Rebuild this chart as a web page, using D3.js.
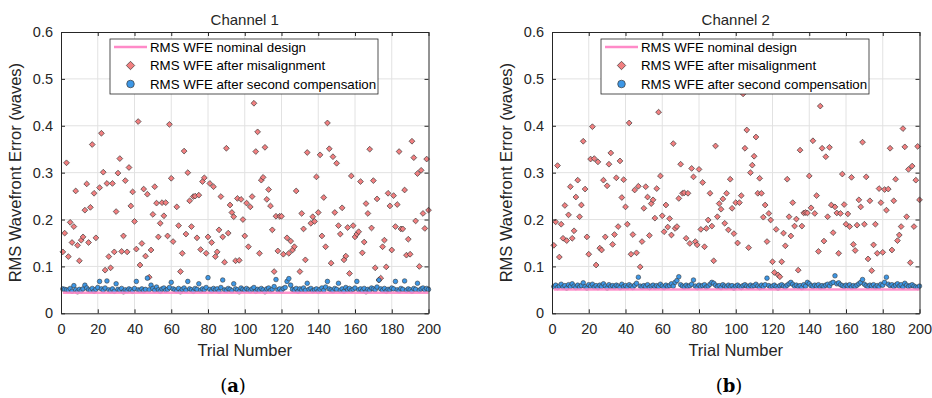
<!DOCTYPE html>
<html>
<head>
<meta charset="utf-8">
<script src="https://cdn.jsdelivr.net/npm/d3@7"></script>
<style>
  html, body { margin: 0; padding: 0; background: #fff; }
  svg { display: block; font-family: "Liberation Sans", Arial, Helvetica, sans-serif; }
</style>
</head>
<body>
<svg id="chart" width="932" height="398"></svg>
<script>
// ---- data ----
const xTicks = [0, 20, 40, 60, 80, 100, 120, 140, 160, 180, 200];
const yTicks = [0, 0.1, 0.2, 0.3, 0.4, 0.5, 0.6];
const legendLabels = ['RMS WFE nominal design', 'RMS WFE after misalignment', 'RMS WFE after second compensation'];

// channel 1
const nominal1 = 0.044;
const misalign1 = [
  0.131, 0.171, 0.321, 0.121, 0.194, 0.151, 0.185, 0.261, 0.145, 0.112,
  0.156, 0.163, 0.220, 0.276, 0.151, 0.226, 0.360, 0.256, 0.161, null,
  0.268, 0.384, 0.301, 0.092, 0.277, 0.121, 0.097, 0.277, 0.131, 0.217,
  0.299, 0.330, 0.132, 0.165, 0.283, 0.131, 0.311, 0.229, 0.259, 0.196,
  0.137, 0.409, 0.103, 0.149, 0.265, 0.122, 0.254, 0.077, 0.135, 0.211,
  0.270, 0.235, 0.163, 0.192, 0.236, 0.208, 0.236, 0.165, 0.403, 0.288,
  0.153, null, 0.227, 0.187, 0.089, 0.128, 0.346, 0.169, 0.300, 0.240,
  0.185, 0.249, 0.250, 0.161, 0.252, 0.136, 0.281, 0.289, 0.128, 0.163,
  0.277, 0.151, 0.270, 0.121, 0.131, 0.178, 0.249, 0.163, 0.109, 0.352,
  0.171, 0.231, 0.215, 0.206, 0.112, 0.245, 0.113, 0.243, 0.200, 0.165,
  0.235, 0.142, 0.227, 0.249, 0.448, 0.345, 0.387, 0.128, 0.284, 0.290,
  0.354, 0.243, 0.264, 0.229, 0.178, 0.089, 0.207, 0.133, 0.207, 0.207,
  0.126, null, 0.161, 0.128, 0.154, 0.135, 0.142, 0.261, null, 0.089,
  0.213, 0.180, 0.114, 0.343, null, 0.192, 0.206, 0.196, 0.291, 0.215,
  0.338, 0.165, 0.247, 0.142, 0.406, 0.351, 0.107, 0.334, 0.215, 0.320,
  0.187, 0.169, 0.225, 0.114, 0.122, 0.183, 0.085, 0.293, 0.187, 0.163,
  0.169, 0.174, 0.281, 0.129, 0.152, 0.234, 0.213, 0.350, 0.182, 0.283,
  0.097, 0.244, 0.071, 0.075, 0.142, 0.156, 0.099, 0.256, 0.229, 0.135,
  0.251, 0.185, 0.232, 0.345, 0.180, 0.180, 0.263, 0.124, 0.158, 0.126,
  0.367, 0.332, 0.197, 0.298, 0.100, 0.305, 0.213, 0.181, 0.329, 0.220
];
const second1 = [
  0.052, 0.051, 0.050, 0.049, 0.053, 0.047, 0.059, 0.050, 0.046, 0.051, 0.048, 0.052, 0.060, 0.054, 0.050, 0.049, 0.053, 0.047, 0.051, 0.055,
  0.068, 0.052, 0.049, 0.054, 0.069, 0.050, 0.048, 0.052, 0.047, 0.063, 0.051, 0.049, 0.053, 0.046, 0.050, 0.048, 0.052, 0.050, 0.047, 0.053,
  0.068, 0.050, 0.049, 0.052, 0.048, 0.051, 0.075, 0.050, 0.060, 0.053, 0.049, 0.056, 0.050, 0.047, 0.052, 0.054, 0.049, 0.051, 0.055, 0.066,
  0.052, 0.050, 0.048, 0.053, 0.046, 0.051, 0.054, 0.049, 0.068, 0.052, 0.050, 0.047, 0.053, 0.051, 0.063, 0.049, 0.052, 0.050, 0.055, 0.076,
  0.051, 0.048, 0.053, 0.050, 0.052, 0.047, 0.055, 0.071, 0.050, 0.049, 0.053, 0.051, 0.048, 0.063, 0.052, 0.050, 0.046, 0.054, 0.051, 0.049,
  0.053, 0.050, 0.048, 0.052, 0.055, 0.047, 0.051, 0.049, 0.053, 0.050, 0.046, 0.052, 0.054, 0.049, 0.051, 0.057, 0.072, 0.050, 0.052, 0.048,
  0.053, 0.055, 0.068, 0.074, 0.060, 0.051, 0.049, 0.053, 0.047, 0.052, 0.050, 0.054, 0.049, 0.064, 0.051, 0.053, 0.048, 0.050, 0.052, 0.047,
  0.051, 0.054, 0.049, 0.056, 0.068, 0.052, 0.050, 0.048, 0.053, 0.051, 0.064, 0.049, 0.052, 0.047, 0.055, 0.050, 0.053, 0.049, 0.051, 0.054,
  0.068, 0.050, 0.052, 0.048, 0.053, 0.046, 0.051, 0.049, 0.054, 0.052, 0.050, 0.056, 0.071, 0.052, 0.049, 0.053, 0.047, 0.051, 0.050, 0.054,
  0.052, 0.068, 0.050, 0.048, 0.053, 0.051, 0.069, 0.049, 0.052, 0.050, 0.047, 0.053, 0.051, 0.064, 0.049, 0.052, 0.054, 0.050, 0.053, 0.051
];

// channel 2
const nominal2 = 0.051;
const misalign2 = [
  0.145, 0.195, 0.315, 0.120, 0.190, 0.160, 0.230, 0.155, 0.210, 0.270,
  0.160, 0.176, 0.248, 0.284, 0.206, 0.231, 0.367, 0.265, 0.163, 0.126,
  0.329, 0.398, 0.330, 0.103, 0.323, 0.139, 0.135, 0.284, 0.163, 0.272,
  0.318, 0.342, 0.147, 0.168, 0.289, 0.185, 0.325, 0.247, 0.285, 0.227,
  0.190, 0.406, 0.126, 0.168, 0.263, 0.129, 0.271, 0.099, 0.153, 0.224,
  0.270, 0.248, 0.166, 0.234, 0.242, 0.203, 0.266, 0.429, 0.293, 0.208,
  0.174, 0.231, 0.184, 0.202, 0.167, 0.362, 0.181, 0.185, 0.245, 0.318,
  0.256, 0.257, 0.160, 0.256, 0.149, 0.309, 0.291, 0.153, 0.146, 0.307,
  0.179, 0.279, 0.142, 0.181, 0.199, 0.256, 0.186, 0.112, 0.357, 0.206,
  0.234, 0.222, 0.244, 0.192, 0.256, 0.178, 0.286, 0.224, 0.170, 0.236,
  0.150, 0.236, 0.251, 0.468, 0.352, 0.391, 0.140, 0.300, 0.316, 0.335,
  0.376, 0.256, 0.288, 0.256, 0.205, 0.231, 0.153, 0.213, 0.199, 0.110,
  0.087, 0.179, 0.082, 0.078, 0.110, 0.171, 0.144, 0.286, 0.206, 0.165,
  0.236, 0.186, 0.201, 0.092, 0.348, 0.186, 0.214, 0.215, 0.214, 0.293,
  0.225, 0.368, 0.213, 0.251, 0.132, 0.442, 0.352, 0.154, 0.334, 0.206,
  0.354, 0.231, 0.172, 0.227, 0.214, 0.128, 0.213, 0.297, 0.232, 0.190,
  0.212, 0.185, 0.290, 0.147, 0.134, 0.188, 0.242, 0.227, 0.365, 0.190,
  0.291, 0.116, 0.240, 0.091, 0.146, 0.190, 0.128, 0.266, 0.236, 0.130,
  0.264, 0.220, 0.265, 0.352, 0.135, 0.240, 0.286, 0.155, 0.167, 0.185,
  0.394, 0.355, 0.206, 0.307, 0.108, 0.314, 0.185, 0.284, 0.356, 0.242
];
const second2 = [
  0.057, 0.060, 0.055, 0.058, 0.062, 0.056, 0.059, 0.054, 0.061, 0.057, 0.063, 0.058, 0.055, 0.060, 0.056, 0.059, 0.065, 0.057, 0.054, 0.061,
  0.058, 0.062, 0.056, 0.059, 0.055, 0.060, 0.057, 0.063, 0.058, 0.054, 0.061, 0.057, 0.059, 0.056, 0.060, 0.058, 0.055, 0.062, 0.057, 0.059,
  0.056, 0.061, 0.058, 0.055, 0.060, 0.064, 0.077, 0.058, 0.056, 0.059, 0.057, 0.061, 0.055, 0.058, 0.060, 0.056, 0.059, 0.057, 0.062, 0.058,
  0.055, 0.060, 0.057, 0.059, 0.063, 0.058, 0.066, 0.070, 0.078, 0.061, 0.058, 0.056, 0.060, 0.057, 0.059, 0.062, 0.071, 0.058, 0.055, 0.060,
  0.057, 0.059, 0.061, 0.056, 0.058, 0.062, 0.066, 0.064, 0.060, 0.057, 0.059, 0.055, 0.061, 0.058, 0.056, 0.060, 0.057, 0.059, 0.054, 0.058,
  0.060, 0.057, 0.055, 0.059, 0.061, 0.058, 0.056, 0.060, 0.057, 0.059, 0.062, 0.058, 0.055, 0.060, 0.057, 0.061, 0.075, 0.059, 0.056, 0.058,
  0.060, 0.057, 0.054, 0.059, 0.061, 0.058, 0.056, 0.060, 0.063, 0.066, 0.062, 0.058, 0.060, 0.057, 0.059, 0.055, 0.061, 0.058, 0.066, 0.063,
  0.059, 0.057, 0.060, 0.058, 0.061, 0.056, 0.059, 0.057, 0.060, 0.062, 0.058, 0.064, 0.066, 0.080, 0.063, 0.065, 0.061, 0.059, 0.057, 0.060,
  0.058, 0.061, 0.056, 0.059, 0.057, 0.060, 0.063, 0.066, 0.072, 0.062, 0.059, 0.057, 0.060, 0.058, 0.061, 0.056, 0.059, 0.057, 0.062, 0.060,
  0.066, 0.077, 0.062, 0.059, 0.061, 0.057, 0.060, 0.063, 0.058, 0.061, 0.056, 0.064, 0.060, 0.057, 0.059, 0.061, 0.058, 0.056, 0.055, 0.058
];

const panels = [
  { title: 'Channel 1', tag: 'a', tagX: 233, left: 61, nominal: nominal1, misalign: misalign1, second: second1 },
  { title: 'Channel 2', tag: 'b', tagX: 729, left: 552, nominal: nominal2, misalign: misalign2, second: second2 }
];

// ---- style ----
const plotW = 367.5, plotTop = 32, plotBottom = 313.3;
const axisColor = '#262626';
const gridColor = '#e2e2e2';
const pink = '#ff8ac8';
const redFill = '#f27f80';
const blueFill = '#3d97e6';
const edge = '#3a3a3a';

const svg = d3.select('#chart');

function diamondPath(r) {
  return `M0,${-r}L${r},0L0,${r}L${-r},0Z`;
}

panels.forEach((p) => {
  const x = d3.scaleLinear().domain([0, 200]).range([p.left, p.left + plotW]);
  const y = d3.scaleLinear().domain([0, 0.6]).range([plotBottom, plotTop]);
  const g = svg.append('g');

  // grid
  g.append('g')
    .selectAll('line')
    .data(xTicks.slice(1, -1))
    .join('line')
    .attr('x1', (d) => x(d)).attr('x2', (d) => x(d))
    .attr('y1', plotTop).attr('y2', plotBottom)
    .attr('stroke', gridColor).attr('stroke-width', 1);
  g.append('g')
    .selectAll('line')
    .data(yTicks.slice(1, -1))
    .join('line')
    .attr('x1', p.left).attr('x2', p.left + plotW)
    .attr('y1', (d) => y(d)).attr('y2', (d) => y(d))
    .attr('stroke', gridColor).attr('stroke-width', 1);

  const trials = d3.range(1, 201);

  // misalignment diamonds
  g.append('g')
    .selectAll('path')
    .data(trials.filter((t) => p.misalign[t - 1] != null))
    .join('path')
    .attr('d', diamondPath(2.9))
    .attr('transform', (t) => `translate(${x(t)},${y(p.misalign[t - 1])})`)
    .attr('fill', redFill)
    .attr('stroke', edge)
    .attr('stroke-width', 0.7);

  // second compensation circles
  g.append('g')
    .selectAll('circle')
    .data(trials)
    .join('circle')
    .attr('cx', (t) => x(t))
    .attr('cy', (t) => y(p.second[t - 1]))
    .attr('r', 2.3)
    .attr('fill', blueFill)
    .attr('stroke', edge)
    .attr('stroke-width', 0.6);

  // nominal design line
  const line = d3.line().x((t) => x(t)).y(() => y(p.nominal));
  g.append('path')
    .datum(trials)
    .attr('d', line)
    .attr('fill', 'none')
    .attr('stroke', pink)
    .attr('stroke-opacity', 0.9)
    .attr('stroke-width', 2.5);

  // axes (ticks inward, box)
  g.append('g')
    .attr('transform', `translate(0,${plotBottom})`)
    .call(d3.axisBottom(x).tickValues(xTicks).tickSizeInner(-4).tickSizeOuter(0).tickPadding(10))
    .call((a) => a.select('.domain').attr('stroke', axisColor))
    .call((a) => a.selectAll('.tick line').attr('stroke', axisColor))
    .call((a) => a.selectAll('.tick text').attr('fill', axisColor).style('font-size', '14.5px'));
  g.append('g')
    .attr('transform', `translate(0,${plotTop})`)
    .call(d3.axisTop(x).tickValues(xTicks).tickSizeInner(-4).tickSizeOuter(0).tickFormat(''))
    .call((a) => a.select('.domain').attr('stroke', axisColor))
    .call((a) => a.selectAll('.tick line').attr('stroke', axisColor));
  g.append('g')
    .attr('transform', `translate(${p.left},0)`)
    .call(d3.axisLeft(y).tickValues(yTicks).tickSizeInner(-4).tickSizeOuter(0).tickPadding(8).tickFormat((d) => d === 0 ? '0' : d3.format('.1f')(d)))
    .call((a) => a.select('.domain').attr('stroke', axisColor))
    .call((a) => a.selectAll('.tick line').attr('stroke', axisColor))
    .call((a) => a.selectAll('.tick text').attr('fill', axisColor).style('font-size', '14.5px'));
  g.append('g')
    .attr('transform', `translate(${p.left + plotW},0)`)
    .call(d3.axisRight(y).tickValues(yTicks).tickSizeInner(-4).tickSizeOuter(0).tickFormat(''))
    .call((a) => a.select('.domain').attr('stroke', axisColor))
    .call((a) => a.selectAll('.tick line').attr('stroke', axisColor));
  g.selectAll('.tick text').style('font-family', '"Liberation Sans", Arial, sans-serif');

  const cx = p.left + plotW / 2;

  // title and labels
  g.append('text')
    .attr('x', cx).attr('y', 25)
    .attr('text-anchor', 'middle')
    .attr('fill', axisColor)
    .style('font-size', '15px')
    .text(p.title);
  g.append('text')
    .attr('x', cx).attr('y', 356)
    .attr('text-anchor', 'middle')
    .attr('fill', axisColor)
    .style('font-size', '16.5px')
    .text('Trial Number');
  g.append('text')
    .attr('transform', `translate(${p.left - 40},${(plotTop + plotBottom) / 2}) rotate(-90)`)
    .attr('text-anchor', 'middle')
    .attr('fill', axisColor)
    .style('font-size', '16.5px')
    .text('RMS Wavefront Error (waves)');
  const tag = g.append('text')
    .attr('x', p.tagX).attr('y', 392)
    .attr('text-anchor', 'middle')
    .attr('fill', '#000')
    .style('font-family', '"DejaVu Serif", "Liberation Serif", serif')
    .style('font-size', '18px');
  tag.append('tspan').text('(');
  tag.append('tspan').style('font-weight', 'bold').text(p.tag);
  tag.append('tspan').text(')');

  // legend
  const lx = p.left + 49, ly = 39, lw = 268, lh = 55;
  const lg = g.append('g');
  lg.append('rect')
    .attr('x', lx).attr('y', ly).attr('width', lw).attr('height', lh)
    .attr('fill', '#fff').attr('stroke', axisColor).attr('stroke-width', 0.8);
  const rows = [47, 65.5, 84];
  lg.append('line')
    .attr('x1', lx + 4).attr('x2', lx + 37).attr('y1', rows[0]).attr('y2', rows[0])
    .attr('stroke', pink).attr('stroke-width', 2.5);
  lg.append('path')
    .attr('d', diamondPath(4.2))
    .attr('transform', `translate(${lx + 20.5},${rows[1]})`)
    .attr('fill', redFill).attr('stroke', edge).attr('stroke-width', 0.7);
  lg.append('circle')
    .attr('cx', lx + 20.5).attr('cy', rows[2]).attr('r', 3.8)
    .attr('fill', blueFill).attr('stroke', edge).attr('stroke-width', 0.7);
  lg.selectAll('text.leg')
    .data(legendLabels)
    .join('text')
    .attr('class', 'leg')
    .attr('x', lx + 40)
    .attr('y', (d, i) => rows[i])
    .attr('dy', '0.36em')
    .attr('fill', '#000')
    .style('font-size', '13.3px')
    .text((d) => d);
});
</script>
</body>
</html>
